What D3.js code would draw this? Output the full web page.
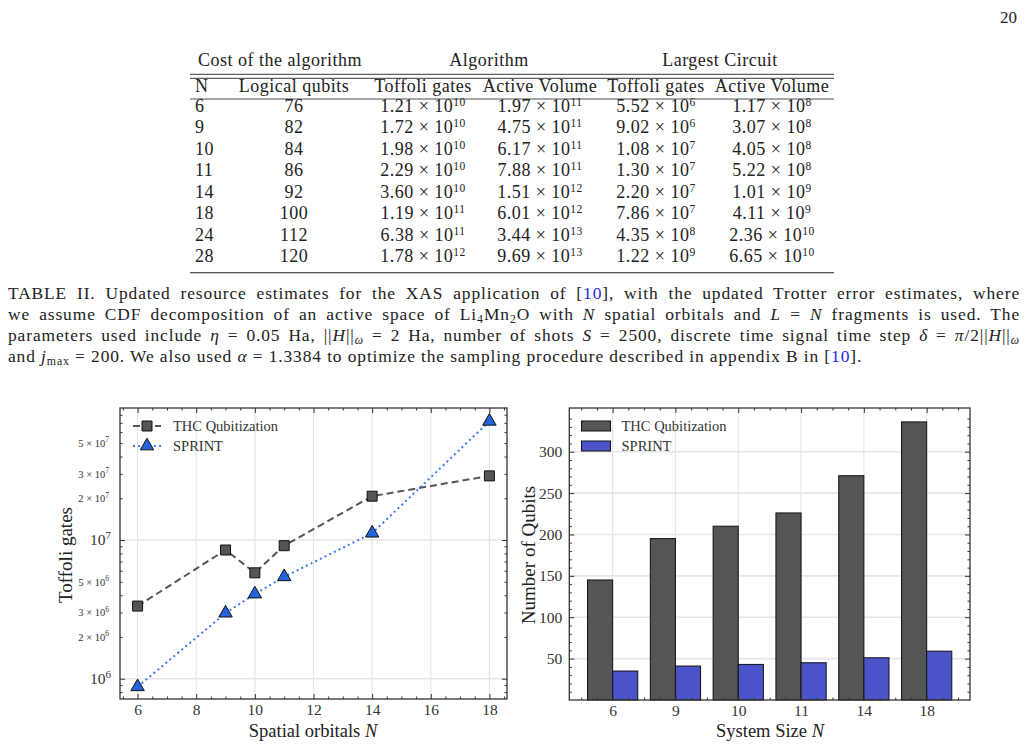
<!DOCTYPE html>
<html>
<head>
<meta charset="utf-8">
<script src="https://cdn.jsdelivr.net/npm/d3@7"></script>
<style>
  body { margin: 0; background: #fff; }
  svg { display: block; font-family: "Liberation Serif", "DejaVu Serif", serif; }
  text { fill: #222; white-space: pre; }
</style>
</head>
<body>
<div id="page"></div>
<script>
// table II values
const tableN = [6, 9, 10, 11, 14, 18, 24, 28];
const logicalQubits = [76, 82, 84, 86, 92, 100, 112, 120];
const algToffoli = [1.21e10, 1.72e10, 1.98e10, 2.29e10, 3.60e10, 1.19e11, 6.38e11, 1.78e12];
const algVolume = [1.97e11, 4.75e11, 6.17e11, 7.88e11, 1.51e12, 6.01e12, 3.44e13, 9.69e13];
const circToffoli = [5.52e6, 9.02e6, 1.08e7, 1.30e7, 2.20e7, 7.86e7, 4.35e8, 1.22e9];
const circVolume = [1.17e8, 3.07e8, 4.05e8, 5.22e8, 1.01e9, 4.11e9, 2.36e10, 6.65e10];
const groupHeads = ["Cost of the algorithm", "Algorithm", "Largest Circuit"];
const colHeads = ["N", "Logical qubits", "Toffoli gates", "Active Volume", "Toffoli gates", "Active Volume"];

// figure values
const orbitals = [6, 9, 10, 11, 14, 18];
const thcToffoli = [3.34e6, 8.47e6, 5.8e6, 9.1e6, 2.07e7, 2.9e7];
const sprintToffoli = [8.75e5, 2.97e6, 4.08e6, 5.43e6, 1.12e7, 7.18e7];
const thcQubits = [145, 195, 210, 226, 271, 336];
const sprintQubits = [35, 41, 43, 45, 51, 59];
const seriesNames = ["THC Qubitization", "SPRINT"];

const captionLines = [
  [["TABLE II. Updated resource estimates for the XAS application of ["], ["10", "blue"], ["], with the updated Trotter error estimates, where"]],
  [["we assume CDF decomposition of an active space of Li"], ["4", "sub"], ["Mn"], ["2", "sub"], ["O with "], ["N", "i"], [" spatial orbitals and "], ["L", "i"], [" = "], ["N", "i"], [" fragments is used. The"]],
  [["parameters used include "], ["η", "i"], [" = 0.05 Ha, ||"], ["H", "i"], ["||"], ["ω", "isub"], [" = 2 Ha, number of shots "], ["S", "i"], [" = 2500, discrete time signal time step "], ["δ", "i"], [" = "], ["π", "i"], ["/2||"], ["H", "i"], ["||"], ["ω", "isub"]],
  [["and "], ["j", "i"], ["max", "sub"], [" = 200. We also used "], ["α", "i"], [" = 1.3384 to optimize the sampling procedure described in appendix B in ["], ["10", "blue"], ["]."]]
];

const svg = d3.select("#page").append("svg").attr("width", 1028).attr("height", 746);

// mantissa x 10^e as tspans
function sci(text, v, supSize, rise) {
  const [m, e] = v.toExponential(2).split("e");
  text.append("tspan").text(m + " × 10");
  text.append("tspan").attr("dy", -rise).attr("font-size", supSize).text(+e);
}

function rich(text, segs) {
  let shift = 0;
  segs.forEach(([s, k = ""]) => {
    const t = text.append("tspan").text(s);
    const sub = k === "sub" || k === "isub";
    const want = sub ? 3 : 0;
    if (want !== shift) { t.attr("dy", want - shift); shift = want; }
    if (sub) t.attr("font-size", "0.68em");
    if (k === "i" || k === "isub") t.attr("font-style", "italic");
    if (k === "blue") t.style("fill", "#1f1fe0");
  });
}

svg.append("text").attr("x", 1017).attr("y", 23).attr("text-anchor", "end").attr("font-size", 17).text("20");

// ---- table ----
const tbl = svg.append("g").attr("font-size", 18).attr("letter-spacing", 0.5);
const colX = [195, 294, 423, 540, 656, 772];
const groupX = [280, 489, 720];
const rowY = d3.scaleLinear().domain([0, tableN.length - 1]).range([111.7, 262.2]);

tbl.selectAll("text.gh").data(groupHeads).join("text").attr("class", "gh")
  .attr("x", (d, i) => groupX[i]).attr("y", 66).attr("text-anchor", "middle").text(d => d);
tbl.selectAll("text.ch").data(colHeads).join("text").attr("class", "ch")
  .attr("x", (d, i) => colX[i]).attr("y", 91.5)
  .attr("text-anchor", (d, i) => i === 0 ? "start" : "middle").text(d => d);

[[74.3, 0.9], [78.3, 0.9], [99, 0.8], [272.7, 1.1]].forEach(([y, w]) =>
  tbl.append("line").attr("x1", 190).attr("x2", 834).attr("y1", y).attr("y2", y)
    .attr("stroke", "#222").attr("stroke-width", w));

const sciCols = [algToffoli, algVolume, circToffoli, circVolume];
tableN.forEach((n, r) => {
  const y = rowY(r);
  tbl.append("text").attr("x", colX[0]).attr("y", y).text(n);
  tbl.append("text").attr("x", colX[1]).attr("y", y).attr("text-anchor", "middle").text(logicalQubits[r]);
  sciCols.forEach((col, c) => {
    const t = tbl.append("text").attr("x", colX[c + 2]).attr("y", y).attr("text-anchor", "middle");
    sci(t, col[r], 11.5, 6);
  });
});

// ---- caption ----
const capY = d3.scaleLinear().domain([0, 3]).range([299, 362]);
captionLines.forEach((segs, i) => {
  const t = svg.append("text").attr("x", 8).attr("y", capY(i)).attr("font-size", 17.4).attr("letter-spacing", 0.9);
  rich(t, segs);
  if (i < captionLines.length - 1) {
    const natural = t.node().getComputedTextLength();
    const spaces = segs.map(s => s[0]).join("").split(" ").length - 1;
    t.attr("word-spacing", Math.max(0, (1020 - 8 - natural) / spaces));
  }
});

// ---- shared axis helpers ----
function styleAxis(g, size) {
  g.attr("font-family", null).attr("font-size", size).attr("fill", null);
  g.select(".domain").remove();
  g.selectAll("line").attr("stroke", "#333").attr("stroke-width", 1);
  g.selectAll("text").style("fill", "#333");
  return g;
}
function plotFrame(b) {
  svg.append("rect").attr("x", b.x0).attr("y", b.y0).attr("width", b.x1 - b.x0).attr("height", b.y1 - b.y0)
    .attr("fill", "none").attr("stroke", "#333").attr("stroke-width", 1.3);
}

// ---- left panel: Toffoli gates (log) ----
const L = { x0: 120, x1: 507, y0: 408, y1: 699 };
const xL = d3.scaleLinear().domain([5.4, 18.6]).range([L.x0, L.x1]);
const yL = d3.scaleLog().domain([7.14e5, 8.95e7]).range([L.y1, L.y0]);
const xMajorL = d3.range(6, 19, 2);
const xMinorL = d3.range(5.5, 18.6, 0.5).filter(v => v % 2 !== 0);
const yMajorL = [1e6, 1e7];
const yLabelMinorL = [2e6, 3e6, 5e6, 2e7, 3e7, 5e7];
const yMinorL = [];
[5, 6, 7].forEach(p => d3.range(2, 10).forEach(k => {
  const v = k * 10 ** p;
  if (v > yL.domain()[0] && v < yL.domain()[1] && !yLabelMinorL.includes(v)) yMinorL.push(v);
}));

const gL = svg.append("g");
gL.append("g").selectAll("line").data(xMajorL).join("line")
  .attr("x1", d => xL(d)).attr("x2", d => xL(d)).attr("y1", L.y0).attr("y2", L.y1)
  .attr("stroke", "#e6e6e6").attr("stroke-width", 1.2);
gL.append("g").selectAll("line").data(yMajorL).join("line")
  .attr("y1", d => yL(d)).attr("y2", d => yL(d)).attr("x1", L.x0).attr("x2", L.x1)
  .attr("stroke", "#e6e6e6").attr("stroke-width", 1.6);

gL.append("g").attr("transform", `translate(0,${L.y1})`)
  .call(d3.axisBottom(xL).tickValues(xMajorL).tickSizeInner(-5).tickSizeOuter(0).tickPadding(5).tickFormat(d3.format("d")))
  .call(g => styleAxis(g, 15.5));
gL.append("g").attr("transform", `translate(0,${L.y1})`)
  .call(d3.axisBottom(xL).tickValues(xMinorL).tickSizeInner(-2.5).tickSizeOuter(0).tickFormat(""))
  .call(g => styleAxis(g, 10));
gL.append("g").attr("transform", `translate(0,${L.y0})`)
  .call(d3.axisTop(xL).tickValues(xMajorL).tickSizeInner(-5).tickSizeOuter(0).tickFormat(""))
  .call(g => styleAxis(g, 10));
gL.append("g").attr("transform", `translate(0,${L.y0})`)
  .call(d3.axisTop(xL).tickValues(xMinorL).tickSizeInner(-2.5).tickSizeOuter(0).tickFormat(""))
  .call(g => styleAxis(g, 10));

gL.append("g").attr("transform", `translate(${L.x0},0)`)
  .call(d3.axisLeft(yL).tickValues(yMajorL).tickSizeInner(-5).tickSizeOuter(0).tickPadding(9).tickFormat(""))
  .call(g => styleAxis(g, 15.5))
  .call(g => g.selectAll("text").each(function (d) {
    const t = d3.select(this);
    t.append("tspan").text("10");
    t.append("tspan").attr("dy", -6.5).attr("font-size", 11).text(Math.round(Math.log10(d)));
  }));
gL.append("g").attr("transform", `translate(${L.x0},0)`)
  .call(d3.axisLeft(yL).tickValues(yLabelMinorL).tickSizeInner(-2.5).tickSizeOuter(0).tickPadding(11).tickFormat(""))
  .call(g => styleAxis(g, 10.5))
  .call(g => g.selectAll("text").each(function (d) {
    const t = d3.select(this);
    const p = Math.floor(Math.log10(d));
    t.append("tspan").text(`${Math.round(d / 10 ** p)} × 10`);
    t.append("tspan").attr("dy", -4.5).attr("font-size", 7.5).text(p);
  }));
gL.append("g").attr("transform", `translate(${L.x0},0)`)
  .call(d3.axisLeft(yL).tickValues(yMinorL).tickSizeInner(-2.5).tickSizeOuter(0).tickFormat(""))
  .call(g => styleAxis(g, 10));
gL.append("g").attr("transform", `translate(${L.x1},0)`)
  .call(d3.axisRight(yL).tickValues(yMajorL).tickSizeInner(-5).tickSizeOuter(0).tickFormat(""))
  .call(g => styleAxis(g, 10));
gL.append("g").attr("transform", `translate(${L.x1},0)`)
  .call(d3.axisRight(yL).tickValues(yMinorL.concat(yLabelMinorL)).tickSizeInner(-2.5).tickSizeOuter(0).tickFormat(""))
  .call(g => styleAxis(g, 10));
plotFrame(L);

const thcStyle = { stroke: "#555", dash: "7,4", fill: "#555", symbol: d3.symbolSquare, size: 100 };
const sprintStyle = { stroke: "#3a7af0", dash: "2,3.2", fill: "#2563dc", symbol: d3.symbolTriangle, size: 78 };
const lineL = d3.line().x((d, i) => xL(orbitals[i])).y(d => yL(d));
[[thcToffoli, thcStyle], [sprintToffoli, sprintStyle]].forEach(([vals, st]) => {
  gL.append("path").datum(vals).attr("d", lineL).attr("fill", "none")
    .attr("stroke", st.stroke).attr("stroke-width", 2).attr("stroke-dasharray", st.dash);
});
[[thcToffoli, thcStyle], [sprintToffoli, sprintStyle]].forEach(([vals, st]) => {
  gL.append("g").selectAll("path").data(vals).join("path")
    .attr("transform", (d, i) => `translate(${xL(orbitals[i])},${yL(d)})`)
    .attr("d", d3.symbol(st.symbol, st.size)).attr("fill", st.fill).attr("stroke", "#111").attr("stroke-width", 1);
});

// legend left
[thcStyle, sprintStyle].forEach((st, i) => {
  const y = 426 + i * 20;
  gL.append("line").attr("x1", 133).attr("x2", 161).attr("y1", y).attr("y2", y)
    .attr("stroke", st.stroke).attr("stroke-width", 2).attr("stroke-dasharray", st.dash);
  gL.append("path").attr("transform", `translate(147,${y})`).attr("d", d3.symbol(st.symbol, st.size))
    .attr("fill", st.fill).attr("stroke", "#111");
  gL.append("text").attr("x", 173).attr("y", y + 5).attr("font-size", 14.5).style("fill", "#333").text(seriesNames[i]);
});

gL.append("text").attr("transform", "translate(72,555) rotate(-90)").attr("text-anchor", "middle")
  .attr("font-size", 19).text("Toffoli gates");
const xtL = gL.append("text").attr("x", 313).attr("y", 737).attr("text-anchor", "middle").attr("font-size", 18.5);
xtL.append("tspan").text("Spatial orbitals ");
xtL.append("tspan").attr("font-style", "italic").text("N");

// ---- right panel: number of qubits ----
const R = { x0: 569.3, x1: 970, y0: 408, y1: 700 };
const xR = d3.scaleLinear().domain([-0.69, 5.69]).range([R.x0, R.x1]);
const yR = d3.scaleLinear().domain([0, 352.8]).range([R.y1, R.y0]);
const idx = d3.range(orbitals.length);
const xMinorR = d3.range(-0.5, 5.6, 0.25).filter(v => Math.abs(v - Math.round(v)) > 0.01);
const yMajorR = d3.range(50, 301, 50);
const yMinorR = d3.range(10, 351, 10).filter(v => v % 50 !== 0);

const gR = svg.append("g");
gR.append("g").selectAll("line").data(idx).join("line")
  .attr("x1", d => xR(d)).attr("x2", d => xR(d)).attr("y1", R.y0).attr("y2", R.y1)
  .attr("stroke", "#e6e6e6").attr("stroke-width", 1.2);
gR.append("g").selectAll("line").data(yMajorR).join("line")
  .attr("y1", d => yR(d)).attr("y2", d => yR(d)).attr("x1", R.x0).attr("x2", R.x1)
  .attr("stroke", "#e6e6e6").attr("stroke-width", 1.6);

const barW = xR(0.4) - xR(0);
gR.append("g").selectAll("rect").data(thcQubits).join("rect")
  .attr("x", (d, i) => xR(i - 0.4)).attr("width", barW)
  .attr("y", d => yR(d)).attr("height", d => yR(0) - yR(d))
  .attr("fill", "#555").attr("stroke", "#111").attr("stroke-width", 1);
gR.append("g").selectAll("rect").data(sprintQubits).join("rect")
  .attr("x", (d, i) => xR(i)).attr("width", barW)
  .attr("y", d => yR(d)).attr("height", d => yR(0) - yR(d))
  .attr("fill", "#4b53c9").attr("stroke", "#111").attr("stroke-width", 1);

gR.append("g").attr("transform", `translate(0,${R.y1})`)
  .call(d3.axisBottom(xR).tickValues(idx).tickSizeInner(-5).tickSizeOuter(0).tickPadding(5).tickFormat(i => orbitals[i]))
  .call(g => styleAxis(g, 15.5));
gR.append("g").attr("transform", `translate(0,${R.y1})`)
  .call(d3.axisBottom(xR).tickValues(xMinorR).tickSizeInner(-2.5).tickSizeOuter(0).tickFormat(""))
  .call(g => styleAxis(g, 10));
gR.append("g").attr("transform", `translate(0,${R.y0})`)
  .call(d3.axisTop(xR).tickValues(idx).tickSizeInner(-5).tickSizeOuter(0).tickFormat(""))
  .call(g => styleAxis(g, 10));
gR.append("g").attr("transform", `translate(0,${R.y0})`)
  .call(d3.axisTop(xR).tickValues(xMinorR).tickSizeInner(-2.5).tickSizeOuter(0).tickFormat(""))
  .call(g => styleAxis(g, 10));
gR.append("g").attr("transform", `translate(${R.x0},0)`)
  .call(d3.axisLeft(yR).tickValues(yMajorR).tickSizeInner(-5).tickSizeOuter(0).tickPadding(7).tickFormat(d3.format("d")))
  .call(g => styleAxis(g, 15.5));
gR.append("g").attr("transform", `translate(${R.x0},0)`)
  .call(d3.axisLeft(yR).tickValues(yMinorR).tickSizeInner(-2.5).tickSizeOuter(0).tickFormat(""))
  .call(g => styleAxis(g, 10));
gR.append("g").attr("transform", `translate(${R.x1},0)`)
  .call(d3.axisRight(yR).tickValues(yMajorR).tickSizeInner(-5).tickSizeOuter(0).tickFormat(""))
  .call(g => styleAxis(g, 10));
gR.append("g").attr("transform", `translate(${R.x1},0)`)
  .call(d3.axisRight(yR).tickValues(yMinorR).tickSizeInner(-2.5).tickSizeOuter(0).tickFormat(""))
  .call(g => styleAxis(g, 10));
plotFrame(R);

// legend right
["#555", "#4b53c9"].forEach((c, i) => {
  const y = 426 + i * 20;
  gR.append("rect").attr("x", 581.5).attr("y", y - 5).attr("width", 29).attr("height", 10)
    .attr("fill", c).attr("stroke", "#111");
  gR.append("text").attr("x", 621.5).attr("y", y + 5).attr("font-size", 14.5).style("fill", "#333").text(seriesNames[i]);
});

gR.append("text").attr("transform", "translate(535,555) rotate(-90)").attr("text-anchor", "middle")
  .attr("font-size", 19).text("Number of Qubits");
const xtR = gR.append("text").attr("x", 770).attr("y", 737).attr("text-anchor", "middle").attr("font-size", 18.5);
xtR.append("tspan").text("System Size ");
xtR.append("tspan").attr("font-style", "italic").text("N");
</script>
</body>
</html>
